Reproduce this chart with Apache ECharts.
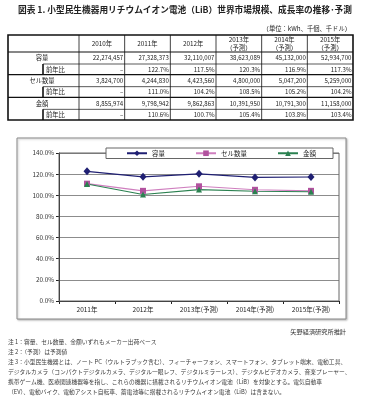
<!DOCTYPE html>
<html><head><meta charset="utf-8">
<script src="https://cdn.jsdelivr.net/npm/echarts@6/dist/echarts.min.js"></script>
<style>html,body{margin:0;padding:0;background:#fff}#c{width:369px;height:400px}</style>
</head><body><div id="c"></div>
<script>
// ---- data ----
const titleText = '図表 1. 小型民生機器用リチウムイオン電池（LiB）世界市場規模、成長率の推移･予測';
const unitText = '（単位：kWh、千個、千ドル）';
const tableYears = ['2010年', '2011年', '2012年', '2013年\n（予測）', '2014年\n（予測）', '2015年\n（予測）'];
const rowLabels = ['容量', '前年比', 'セル数量', '前年比', '金額', '前年比'];
const capacity = [22274457, 27328373, 32110007, 38623089, 45132000, 52934700];
const capacityYoY = [null, 122.7, 117.5, 120.3, 116.9, 117.3];
const cells = [3824700, 4244830, 4423560, 4800000, 5047200, 5259000];
const cellsYoY = [null, 111.0, 104.2, 108.5, 105.2, 104.2];
const amount = [8855974, 9798942, 9862863, 10391950, 10791300, 11158000];
const amountYoY = [null, 110.6, 100.7, 105.4, 103.8, 103.4];
const chartCategories = ['2011年', '2012年', '2013年(予測)', '2014年(予測)', '2015年(予測)'];
const seriesNames = ['容量', 'セル数量', '金額'];
const sourceText = '矢野経済研究所推計';
const notes = [
  '注 1：容量、セル数量、金額いずれもメーカー出荷ベース',
  '注 2：（予測）は予測値',
  '注 3：小型民生機器とは、ノート PC（ウルトラブック含む）、フィーチャーフォン、スマートフォン、タブレット端末、電動工具、',
  'デジタルカメラ（コンパクトデジタルカメラ、デジタル一眼レフ、デジタルミラーレス）、デジタルビデオカメラ、音楽プレーヤー、',
  '携帯ゲーム機、医療関連機器等を指し、これらの機器に搭載されるリチウムイオン電池（LiB）を対象とする。電気自動車',
  '（EV）、電動バイク、電動アシスト自転車、蓄電池等に搭載されるリチウムイオン電池（LiB）は含まない。'
];

// ---- layout ----
const FF = '"Noto Sans CJK JP", "Noto Sans", sans-serif';
const colX = [8, 79, 124.67, 170.33, 216, 261.67, 307.33, 353];
const rowY = [35, 52, 64, 74.67, 86.67, 97.33, 109.33, 120];
const subX = 43;

function fmtNum(v) { return v.toLocaleString('en-US'); }
function fmtPct(v) { return v == null ? '–' : v.toFixed(1) + '%'; }
function txt(text, x, y, size, align, opts) {
  opts = opts || {};
  return {
    type: 'text', x: x, y: y, z: 10,
    style: {
      text: text, fill: opts.fill || '#222', fontSize: size, fontFamily: FF,
      fontWeight: opts.weight || 'normal',
      align: align, textAlign: align, verticalAlign: 'middle', textVerticalAlign: 'middle',
      lineHeight: opts.lineHeight || size * 1.2
    }
  };
}
function ln(x1, y1, x2, y2, w) {
  return { type: 'line', z: 10, shape: { x1: x1, y1: y1, x2: x2, y2: y2 }, style: { stroke: '#111', lineWidth: w } };
}

const g = [];
// title + unit
g.push(txt(titleText, 18, 10, 8.7, 'left', { weight: 'bold', fill: '#222' }));
g.push(txt(unitText, 351, 29, 6.3, 'right'));

// table grid
g.push({ type: 'rect', z: 10, shape: { x: colX[0], y: rowY[0], width: colX[7] - colX[0], height: rowY[7] - rowY[0] }, style: { fill: 'none', stroke: '#111', lineWidth: 1.6 } });
for (let i = 1; i < 7; i++) g.push(ln(colX[i], rowY[0], colX[i], rowY[7], 0.8));
g.push(ln(colX[0], rowY[1], colX[7], rowY[1], 1.2));
[2, 4, 6].forEach(r => g.push(ln(subX, rowY[r], colX[7], rowY[r], 0.7)));
[3, 5].forEach(r => g.push(ln(colX[0], rowY[r], colX[7], rowY[r], 1.4)));
[2, 4, 6].forEach(r => g.push(ln(subX, rowY[r], subX, rowY[r + 1], 1.6)));

// header
tableYears.forEach((t, i) => {
  g.push(txt(t, (colX[i + 1] + colX[i + 2]) / 2, (rowY[0] + rowY[1]) / 2, 6.3, 'center', { lineHeight: 7.5 }));
});
// rows
const rowsData = [capacity.map(fmtNum), capacityYoY.map(fmtPct), cells.map(fmtNum), cellsYoY.map(fmtPct), amount.map(fmtNum), amountYoY.map(fmtPct)];
rowLabels.forEach((lab, r) => {
  const cy = (rowY[r + 1] + rowY[r + 2]) / 2;
  if (r % 2 === 0) g.push(txt(lab, 42, cy, 6.3, 'center'));
  else g.push(txt(lab, 46, cy, 6.3, 'left'));
  rowsData[r].forEach((v, i) => g.push(txt(v, colX[i + 2] - 1.5, cy, 6.1, 'right')));
});

// chart frame
g.push({ type: 'rect', z: 0, shape: { x: 17, y: 138, width: 329, height: 181 }, style: { fill: '#fff', stroke: '#8a8a8a', lineWidth: 1, shadowBlur: 2, shadowColor: 'rgba(0,0,0,0.25)', shadowOffsetX: 1, shadowOffsetY: 1 } });

// source + notes
g.push(txt(sourceText, 346, 332, 6.2, 'right', { fill: '#333' }));
const noteY = [342, 352, 361.5, 371.5, 381.5, 391.5];
notes.forEach((n, i) => g.push(txt(n, 8, noteY[i], 5.78, 'left', { fill: '#3a3a3a' })));

const colors = ['#1f1f72', '#b2529f', '#2b8150'];
const chart = echarts.init(document.getElementById('c'), null, { renderer: 'canvas' });
chart.setOption({
  animation: false,
  backgroundColor: '#fff',
  textStyle: { fontFamily: FF },
  graphic: { elements: g },
  grid: { left: 59, right: 30, top: 153, bottom: 99, show: true, borderColor: '#666', borderWidth: 1, backgroundColor: 'transparent', z: 2 },
  legend: {
    left: 106, top: 148, z: 5,
    padding: [2, 17, 2, 20],
    itemWidth: 20, itemHeight: 7, itemGap: 30,
    backgroundColor: '#fff', borderColor: '#666', borderWidth: 1,
    textStyle: { fontSize: 6.5, color: '#222', fontFamily: FF },
    data: seriesNames
  },
  xAxis: {
    type: 'category', data: chartCategories, boundaryGap: true,
    axisLine: { lineStyle: { color: '#222', width: 1 } },
    axisTick: { show: true, length: 3, lineStyle: { color: '#222' } },
    axisLabel: { fontSize: 6.5, color: '#222', margin: 5, fontFamily: FF }
  },
  yAxis: {
    type: 'value', min: 0, max: 140, interval: 20,
    axisLine: { show: true, lineStyle: { color: '#222', width: 1 } },
    axisTick: { show: true, length: 3, lineStyle: { color: '#222' } },
    splitLine: { lineStyle: { color: '#8c8c8c', width: 1 } },
    axisLabel: { fontSize: 6.3, color: '#333', margin: 5, fontFamily: FF, formatter: v => v.toFixed(1) + '%' }
  },
  series: [
    { name: seriesNames[0], type: 'line', data: capacityYoY.slice(1), color: colors[0], symbol: 'diamond', symbolSize: [7, 8], lineStyle: { width: 1.2 }, z: 4 },
    { name: seriesNames[1], type: 'line', data: cellsYoY.slice(1), color: colors[1], symbol: 'rect', symbolSize: 6, lineStyle: { width: 1.1, color: '#cf7fbf' }, z: 3 },
    { name: seriesNames[2], type: 'line', data: amountYoY.slice(1), color: colors[2], symbol: 'triangle', symbolSize: 6, lineStyle: { width: 1.1 }, z: 3 }
  ]
});
</script></body></html>
